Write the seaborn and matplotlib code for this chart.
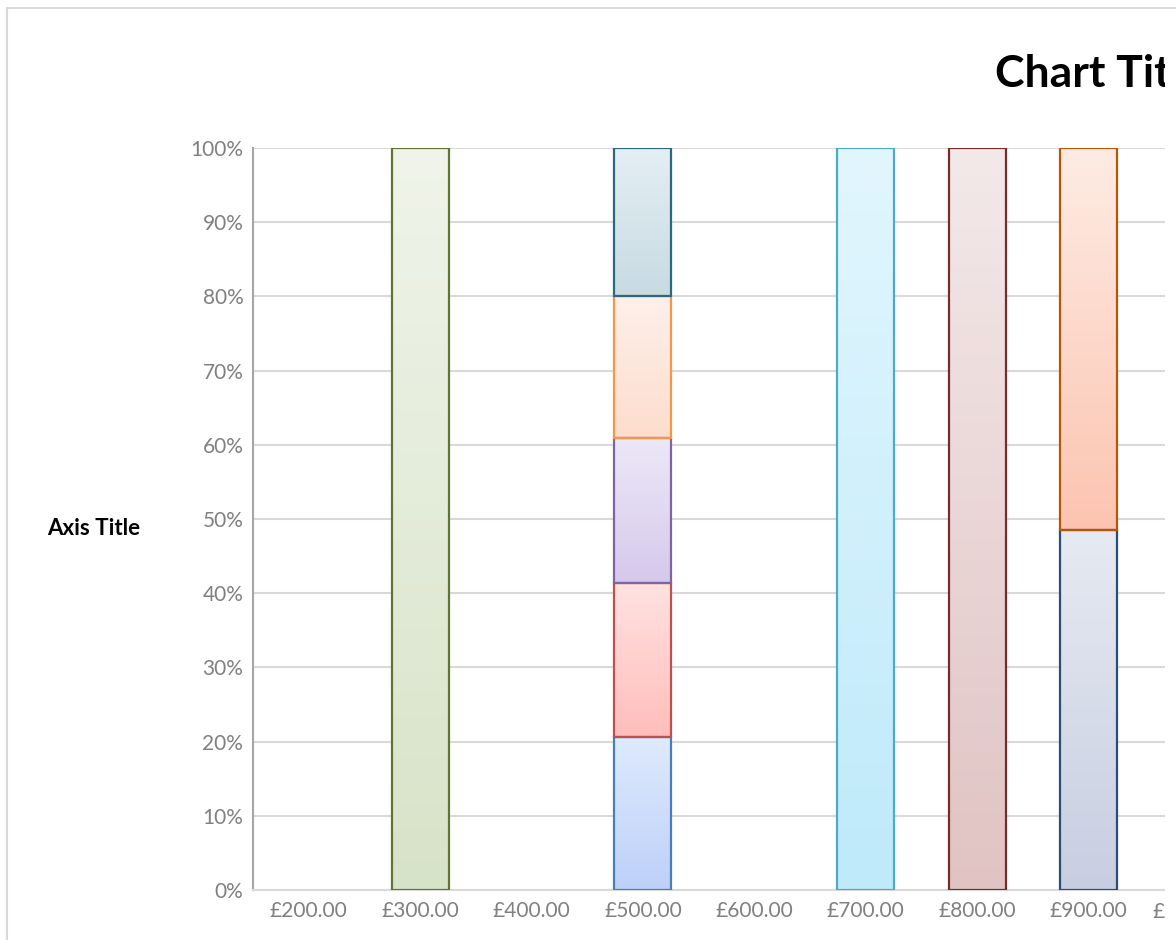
import numpy as np
import pandas as pd
import matplotlib
matplotlib.use("Agg")
import matplotlib.pyplot as plt
import seaborn as sns
from matplotlib.patches import Rectangle
from matplotlib.lines import Line2D

# ---------------- data ----------------
categories = ["£200.00", "£300.00", "£400.00", "£500.00", "£600.00",
              "£700.00", "£800.00", "£900.00", "£1,000.00"]

s_blue       = [0, 0,   0, 20.6, 0, 0,   0,   0,    0]
s_red        = [0, 0,   0, 20.8, 0, 0,   0,   0,    0]
s_purple     = [0, 0,   0, 19.5, 0, 0,   0,   0,    0]
s_orange     = [0, 0,   0, 19.2, 0, 0,   0,   0,    0]
s_teal       = [0, 0,   0, 19.9, 0, 0,   0,   0,    0]
s_green      = [0, 100, 0, 0,    0, 0,   0,   0,    0]
s_aqua       = [0, 0,   0, 0,    0, 100, 0,   0,    0]
s_darkred    = [0, 0,   0, 0,    0, 0,   100, 0,    0]
s_navy       = [0, 0,   0, 0,    0, 0,   0,   48.5, 0]
s_darkorange = [0, 0,   0, 0,    0, 0,   0,   51.5, 0]

series_values = [s_blue, s_red, s_purple, s_orange, s_teal,
                 s_green, s_aqua, s_darkred, s_navy, s_darkorange]

edge_colors = ["#4A7EBB", "#C0504D", "#8064A2", "#F79646", "#2B6A7E",
               "#5F7530", "#4BACC6", "#772C2A", "#2C4D75", "#B65708"]
top_colors = ["#DEEAFD", "#FFE2E2", "#ECE8F7", "#FEF0EA", "#E4EFF4",
              "#F0F4EA", "#E2F6FE", "#F3E9E9", "#E6EAF2", "#FEECE4"]
bottom_colors = ["#BDD0F9", "#FFBEBA", "#D6C8EC", "#FDDDCD", "#C8DAE2",
                 "#D7E3C8", "#BEEAFA", "#E1C3C3", "#C8CEE1", "#FCC4B0"]

y_ticks = list(range(0, 101, 10))
y_tick_labels = [f"{v}%" for v in y_ticks]

# ---------------- style ----------------
sns.set_theme(style="white")
plt.rcParams['font.family'] = ['Lato', 'DejaVu Sans']

W, H = 1176, 940
fig = plt.figure(figsize=(W / 100, H / 100), dpi=100)
fig.patch.set_facecolor("white")

ax_left, ax_right, ax_top, ax_bottom = 253, 1255.6, 148, 890
ax = fig.add_axes([ax_left / W, (H - ax_bottom) / H,
                   (ax_right - ax_left) / W, (ax_bottom - ax_top) / H])

# 100% stacked: normalise per category
vals = np.array(series_values, dtype=float)
totals = vals.sum(axis=0)
totals[totals == 0] = 1
pct = vals / totals * 100
bottoms = np.vstack([np.zeros(len(categories)), np.cumsum(pct, axis=0)[:-1]])

for i in range(len(series_values)):
    n_before = len(ax.patches)
    df = pd.DataFrame({"category": categories, "value": pct[i]})
    sns.barplot(data=df, x="category", y="value", order=categories, ax=ax,
                width=0.512, color=top_colors[i], edgecolor=edge_colors[i],
                linewidth=1.6, errorbar=None, zorder=3)
    new_patches = ax.patches[n_before:]
    for j, p in enumerate(new_patches):
        if pct[i][j] <= 0:
            p.set_visible(False)
            continue
        p.set_y(bottoms[i][j])
        x0, w = p.get_x(), p.get_width()
        y0, h = p.get_y(), p.get_height()
        c0 = np.array(matplotlib.colors.to_rgb(bottom_colors[i]))
        c1 = np.array(matplotlib.colors.to_rgb(top_colors[i]))
        t = np.linspace(0, 1, 256)[:, None]
        grad = (c0[None, :] * (1 - t) + c1[None, :] * t)[:, None, :]
        im = ax.imshow(grad, extent=[x0, x0 + w, y0, y0 + h], origin="lower",
                       aspect="auto", zorder=2.9, interpolation="bilinear")
        im.set_clip_path(p)
        p.set_facecolor("none")

ax.set_xlim(-0.5, len(categories) - 0.5)
ax.set_ylim(0, 100)
ax.set_yticks(y_ticks)
ax.set_yticklabels(y_tick_labels)
ax.set_xlabel("")
ax.set_ylabel("")

ax.yaxis.grid(True, color="#D9D9D9", linewidth=1.5, zorder=0)
ax.xaxis.grid(False)
ax.set_axisbelow(True)
for s in ["top", "right"]:
    ax.spines[s].set_visible(False)
ax.spines["left"].set_color("#A6A6A6")
ax.spines["left"].set_linewidth(1.5)
ax.spines["bottom"].set_color("#D9D9D9")
ax.spines["bottom"].set_linewidth(1.5)
ax.tick_params(axis="both", length=0, labelsize=15, labelcolor="#808080")
ax.tick_params(axis="y", pad=7)
ax.tick_params(axis="x", pad=8)

# titles
fig.text(995 / W, 1 - 87 / H, "Chart Title", ha="left", va="baseline",
         fontsize=32, fontweight="bold", color="black")
fig.text(47 / W, 1 - 535 / H, "Axis Title", ha="left", va="baseline",
         fontsize=16, fontweight="bold", color="black")

# chart area border (top & left visible) and right-hand crop
fig.add_artist(Line2D([7 / W, 7 / W], [0, 1 - 8 / H], transform=fig.transFigure,
                      color="#D9D9D9", linewidth=1.5, zorder=20))
fig.add_artist(Line2D([7 / W, 1], [1 - 8 / H, 1 - 8 / H], transform=fig.transFigure,
                      color="#D9D9D9", linewidth=1.5, zorder=20))
fig.add_artist(Rectangle((1165 / W, 0), 11 / W, 1 - 10 / H, transform=fig.transFigure,
                         facecolor="white", edgecolor="none", zorder=15))

fig.savefig("out.png", dpi=100)
